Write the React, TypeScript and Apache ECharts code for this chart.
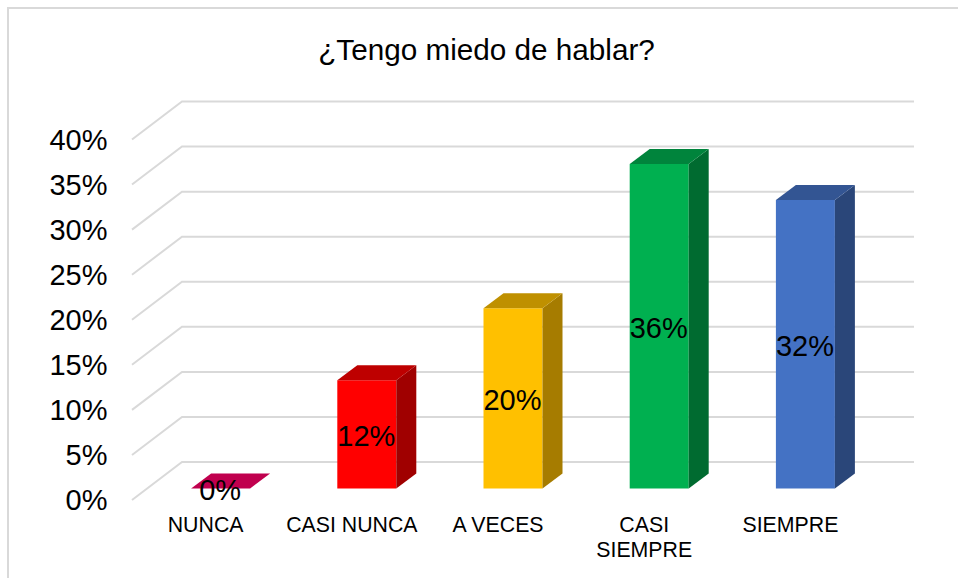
import React, { useEffect, useRef } from "react";
import * as echarts from "echarts";

const categories = ["NUNCA", "CASI NUNCA", "A VECES", "CASI\nSIEMPRE", "SIEMPRE"];
const values = [0, 12, 20, 36, 32];
const gridTicks = [0, 5, 10, 15, 20, 25, 30, 35, 40];
const frontColors = ["#C0004E", "#FF0000", "#FFC000", "#00B050", "#4472C4"];
const topColors = ["#C0004E", "#BE0000", "#BF9000", "#00843C", "#335593"];
const sideColors = ["#90003A", "#A00000", "#A67C00", "#006B30", "#2A4679"];

const FONT = "'Liberation Sans', Arial, sans-serif";
const BAR_W = 59;
const DX = 20;
const DY = 15;

export default function App() {
  const ref = useRef<HTMLDivElement>(null);
  useEffect(() => {
    const chart = echarts.init(ref.current!, null, { renderer: "svg" });
    chart.setOption({
      animation: false,
      backgroundColor: "#ffffff",
      title: {
        text: "¿Tengo miedo de hablar?",
        left: 481.5,
        top: 29,
        textAlign: "center",
        textStyle: { fontFamily: FONT, fontSize: 29.7, fontWeight: "normal", color: "#000000" },
      },
      graphic: [
        {
          type: "polyline",
          shape: { points: [[8, 578], [8, 8], [958, 8]] },
          style: { stroke: "#d9d9d9", lineWidth: 2, fill: "none" },
          silent: true,
        },
      ],
      grid: { left: 147.5, width: 731, top: 128, height: 360.5 },
      xAxis: {
        type: "category",
        data: categories,
        axisLine: { show: false },
        axisTick: { show: false },
        splitLine: { show: false },
        axisLabel: {
          margin: 24,
          interval: 0,
          fontFamily: FONT,
          fontSize: 21.3,
          lineHeight: 25,
          color: "#000000",
          padding: [0, 30, 0, 0],
        },
      },
      yAxis: {
        type: "value",
        min: 0,
        max: 40,
        interval: 5,
        axisLine: { show: false },
        axisTick: { show: false },
        splitLine: { show: false },
        axisLabel: {
          margin: 40,
          fontFamily: FONT,
          fontSize: 29,
          color: "#000000",
          formatter: "{value}%",
          verticalAlign: "top",
          lineHeight: 23,
        },
      },
      series: [
        {
          type: "custom",
          coordinateSystem: "cartesian2d",
          data: gridTicks.map((v) => [0, v]),
          silent: true,
          z: 1,
          renderItem: (params: any, api: any) => {
            const y = api.coord([0, api.value(1)])[1];
            const cs = params.coordSys;
            return {
              type: "polyline",
              shape: {
                points: [
                  [cs.x - 15.5, y + 11.5],
                  [cs.x + 34.5, y - 26.5],
                  [cs.x + cs.width + 35.5, y - 26.5],
                ],
              },
              style: { stroke: "#d9d9d9", lineWidth: 2, fill: "none" },
            };
          },
        },
        {
          type: "custom",
          coordinateSystem: "cartesian2d",
          data: values.map((v, i) => [i, v]),
          silent: true,
          z: 2,
          renderItem: (params: any, api: any) => {
            const i = api.value(0);
            const v = api.value(1);
            const [cx, yTop] = api.coord([i, v]);
            const yBase = api.coord([i, 0])[1];
            const l = cx - BAR_W / 2;
            const r = cx + BAR_W / 2;
            const children: any[] = [];
            if (yBase - yTop > 0) {
              children.push({
                type: "rect",
                shape: { x: l, y: yTop, width: BAR_W, height: yBase - yTop },
                style: { fill: frontColors[i] },
              });
              children.push({
                type: "polygon",
                shape: { points: [[r, yTop], [r + DX, yTop - DY], [r + DX, yBase - DY], [r, yBase]] },
                style: { fill: sideColors[i] },
              });
            }
            children.push({
              type: "polygon",
              shape: { points: [[l, yTop], [l + DX, yTop - DY], [r + DX, yTop - DY], [r, yTop]] },
              style: { fill: topColors[i] },
            });
            children.push({
              type: "text",
              x: cx - 0.5,
              y: (yTop + yBase) / 2 + 1.5,
              style: {
                text: `${v}%`,
                x: 0,
                y: 0,
                align: "center",
                verticalAlign: "middle",
                fontFamily: FONT,
                fontSize: 29,
                fill: "#000000",
              },
            });
            return { type: "group", children };
          },
        },
      ],
    });
    return () => chart.dispose();
  }, []);
  return (
    <div
      ref={ref}
      style={{ position: "absolute", left: 0, top: 0, width: 958, height: 578 }}
    />
  );
}
